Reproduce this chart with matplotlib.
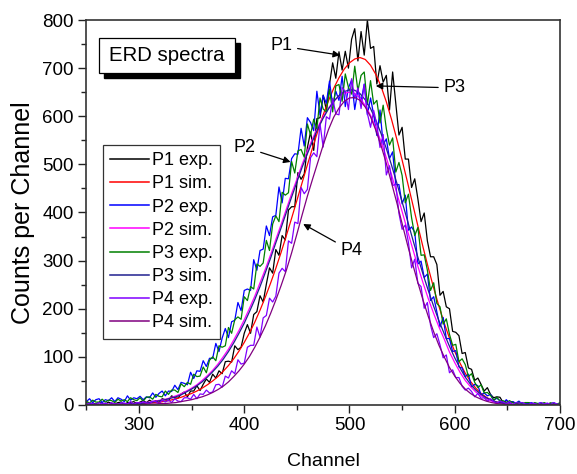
import numpy as np
import matplotlib
matplotlib.use('Agg')
import matplotlib.pyplot as plt
from matplotlib.patches import Rectangle
from matplotlib.ticker import MultipleLocator

plt.rcParams['font.family'] = ['Liberation Sans', 'DejaVu Sans']

# channel grids
channels_exp = np.arange(250, 701, 3)
channels_sim = np.arange(250, 701, 5)

p1_exp = [5, 2, 4, 2, 5, 4, 2, 6, 3, 2,
          5, 6, 1, 5, 5, 7, 3, 6, 9, 5,
          10, 6, 9, 5, 13, 11, 9, 19, 15, 14,
          23, 27, 17, 29, 29, 40, 30, 43, 54, 47,
          64, 56, 71, 65, 90, 91, 89, 123, 115, 120,
          149, 167, 149, 188, 194, 227, 214, 251, 285, 274,
          323, 311, 352, 343, 405, 412, 412, 483, 469, 480,
          535, 567, 529, 595, 597, 644, 613, 666, 711, 679,
          734, 696, 735, 700, 760, 782, 715, 776, 727, 800,
          741, 745, 667, 705, 671, 685, 613, 692, 627, 561,
          577, 511, 511, 452, 470, 428, 381, 399, 341, 308,
          308, 292, 228, 236, 204, 200, 153, 151, 144, 107,
          109, 77, 74, 51, 56, 43, 29, 36, 22, 15,
          17, 16, 5, 9, 6, 7, 2, 4, 5, 2,
          5, 2, 3, 0, 3, 2, 1, 4, 2, 1,
          3]

p2_exp = [7, 13, 5, 11, 13, 5, 11, 9, 15, 7,
          15, 12, 7, 19, 10, 15, 13, 18, 11, 17,
          15, 25, 16, 24, 29, 19, 29, 28, 41, 32,
          47, 45, 42, 68, 55, 71, 70, 92, 80, 97,
          97, 128, 111, 139, 159, 140, 173, 176, 213, 196,
          238, 241, 238, 302, 280, 321, 324, 372, 352, 391,
          394, 453, 420, 471, 470, 512, 522, 521, 575, 538,
          597, 587, 570, 652, 603, 643, 627, 673, 623, 652,
          633, 683, 620, 659, 675, 614, 655, 631, 667, 603,
          638, 603, 560, 613, 541, 553, 512, 526, 458, 458,
          418, 436, 363, 370, 359, 293, 299, 265, 272, 217,
          225, 194, 162, 182, 138, 138, 111, 113, 79, 77,
          59, 64, 37, 43, 40, 21, 25, 19, 22, 10,
          14, 9, 4, 11, 4, 7, 4, 8, 2, 4,
          3, 5, 1, 3, 5, 1, 3, 2, 5, 1,
          4]

p3_exp = [8, 4, 10, 6, 6, 12, 6, 10, 9, 5,
          12, 8, 11, 7, 15, 11, 9, 15, 8, 16,
          17, 12, 22, 18, 17, 29, 22, 31, 31, 26,
          44, 38, 47, 43, 64, 59, 60, 79, 67, 93,
          100, 92, 123, 120, 123, 161, 149, 177, 183, 178,
          225, 217, 246, 241, 293, 288, 295, 342, 321, 376,
          393, 381, 442, 436, 441, 506, 482, 528, 531, 515,
          584, 561, 594, 574, 638, 615, 609, 656, 609, 663,
          666, 631, 688, 660, 646, 704, 653, 685, 692, 624,
          674, 625, 633, 586, 623, 574, 540, 555, 484, 504,
          477, 420, 438, 389, 352, 369, 311, 312, 280, 238,
          254, 211, 204, 168, 179, 147, 124, 126, 90, 96,
          84, 59, 65, 47, 36, 42, 25, 26, 20, 10,
          16, 8, 9, 4, 9, 5, 3, 6, 1, 5,
          5, 1, 5, 3, 2, 5, 2, 4, 3, 1,
          5]

p4_exp = [1, 4, 3, 1, 5, 2, 4, 1, 5, 2,
          1, 5, 4, 2, 7, 1, 5, 4, 7, 4,
          3, 8, 7, 3, 10, 6, 10, 5, 13, 8,
          7, 15, 15, 12, 22, 13, 23, 22, 31, 25,
          27, 42, 43, 37, 60, 56, 71, 65, 94, 85,
          87, 120, 124, 124, 162, 141, 181, 186, 222, 214,
          226, 274, 284, 277, 341, 336, 380, 377, 452, 439,
          448, 514, 524, 516, 584, 536, 599, 594, 637, 605,
          603, 660, 651, 614, 678, 637, 659, 616, 666, 606,
          577, 612, 582, 535, 562, 478, 497, 456, 459, 398,
          365, 374, 338, 285, 303, 253, 246, 201, 213, 166,
          140, 148, 125, 98, 104, 67, 73, 57, 57, 39,
          31, 35, 28, 17, 24, 14, 15, 8, 13, 7,
          4, 8, 6, 3, 7, 1, 5, 4, 5, 2,
          1, 4, 3, 1, 5, 2, 4, 1, 5, 2,
          1]

p1_sim = [0, 0, 0, 1, 1, 1, 1, 1, 1, 2,
          2, 3, 4, 5, 6, 8, 10, 13, 16, 20,
          24, 29, 35, 42, 50, 59, 70, 82, 96, 112,
          130, 150, 172, 197, 224, 253, 284, 317, 352, 388,
          425, 462, 499, 535, 570, 603, 632, 658, 680, 698,
          711, 719, 722, 718, 706, 687, 662, 630, 593, 552,
          509, 464, 418, 372, 327, 284, 243, 205, 170, 139,
          111, 87, 66, 49, 35, 24, 16, 10, 6, 4,
          2, 1, 1, 0, 0, 0, 0, 0, 0, 0,
          0]

p2_sim = [1, 1, 1, 1, 1, 2, 2, 2, 3, 3,
          4, 5, 6, 8, 10, 12, 15, 19, 23, 29,
          35, 42, 51, 61, 72, 85, 100, 116, 135, 155,
          177, 201, 226, 254, 282, 312, 344, 375, 407, 439,
          469, 500, 528, 554, 578, 599, 617, 631, 642, 648,
          650, 647, 638, 622, 602, 576, 547, 514, 478, 440,
          402, 363, 325, 288, 253, 220, 190, 162, 137, 110,
          88, 68, 51, 38, 27, 19, 13, 8, 5, 3,
          2, 1, 1, 0, 0, 0, 0, 0, 0, 0,
          0]

p3_sim = [1, 1, 1, 1, 1, 1, 2, 2, 2, 3,
          3, 4, 5, 7, 9, 11, 14, 17, 21, 27,
          33, 40, 48, 58, 69, 81, 95, 111, 129, 149,
          170, 194, 219, 246, 275, 305, 337, 368, 400, 432,
          463, 494, 522, 549, 574, 596, 615, 631, 643, 651,
          655, 654, 647, 634, 616, 592, 564, 533, 498, 461,
          422, 384, 345, 307, 271, 237, 205, 175, 148, 122,
          98, 77, 58, 43, 31, 22, 15, 10, 6, 4,
          2, 1, 1, 0, 0, 0, 0, 0, 0, 0,
          0]

p4_sim = [0, 0, 0, 0, 1, 1, 1, 1, 1, 1,
          1, 1, 2, 2, 3, 3, 4, 5, 7, 9,
          11, 14, 17, 21, 26, 32, 39, 48, 59, 71,
          85, 101, 120, 141, 164, 190, 218, 248, 280, 316,
          355, 395, 434, 470, 505, 540, 572, 598, 617, 631,
          638, 639, 633, 619, 599, 571, 539, 502, 461, 420,
          377, 334, 293, 254, 217, 183, 152, 124, 100, 78,
          60, 45, 33, 24, 17, 12, 8, 5, 3, 2,
          1, 1, 0, 0, 0, 0, 0, 0, 0, 0,
          0]

labels = ['P1 exp.', 'P1 sim.', 'P2 exp.', 'P2 sim.',
          'P3 exp.', 'P3 sim.', 'P4 exp.', 'P4 sim.']
colors = ['#000000', '#FF0000', '#0000FF', '#FF00FF',
          '#008000', '#202090', '#8000FF', '#800080']
xs = [channels_exp, channels_sim] * 4
ys = [p1_exp, p1_sim, p2_exp, p2_sim, p3_exp, p3_sim, p4_exp, p4_sim]

fig = plt.figure(figsize=(5.77, 4.74), dpi=100)
ax = fig.add_axes([0.1497, 0.1456, 0.8208, 0.8122])

for x, y, c, lab in zip(xs, ys, colors, labels):
    ax.plot(x, y, color=c, lw=0.9, label=lab)

ax.set_xlim(250, 700)
ax.set_ylim(0, 800)
ax.xaxis.set_major_locator(MultipleLocator(100))
ax.xaxis.set_minor_locator(MultipleLocator(50))
ax.yaxis.set_major_locator(MultipleLocator(100))
ax.yaxis.set_minor_locator(MultipleLocator(50))
ax.tick_params(which='major', direction='out', length=6, width=1.0,
               labelsize=13.5, color='#222222', pad=3)
ax.tick_params(which='minor', direction='out', length=3.5, width=1.0,
               color='#222222')
for side in ['left', 'bottom', 'top', 'right']:
    ax.spines[side].set_linewidth(1.2)
    ax.spines[side].set_color('#333333')

ax.set_xlabel('Channel', fontsize=14)
ax.set_ylabel('Counts per Channel', fontsize=18)
ax.xaxis.set_label_coords(0.5, -0.125)
ax.yaxis.set_label_coords(-0.108, 0.5)

leg = ax.legend(loc='upper left', bbox_to_anchor=(0.035, 0.675),
                borderaxespad=0, fontsize=13, frameon=True,
                fancybox=False, edgecolor='black', handlelength=2.15,
                handletextpad=0.15, labelspacing=0.34, borderpad=0.4)
leg.get_frame().set_linewidth(0.9)
for h in leg.get_lines():
    h.set_linewidth(1.1)

# ERD spectra box with shadow
ax.add_patch(Rectangle((0.0372, 0.849), 0.2866, 0.091, transform=ax.transAxes,
                       facecolor='black', edgecolor='black', clip_on=False, zorder=5))
ax.add_patch(Rectangle((0.0266, 0.862), 0.2872, 0.091, transform=ax.transAxes,
                       facecolor='white', edgecolor='black', lw=0.9, clip_on=False, zorder=6))
ax.text(0.170, 0.9065, 'ERD spectra', transform=ax.transAxes, fontsize=14.7,
        ha='center', va='center', zorder=7)

arrow = dict(arrowstyle='-|>', color='black', lw=0.9, mutation_scale=10,
             shrinkA=2, shrinkB=0)
ax.annotate('P1', xy=(491, 727), xytext=(435, 746), fontsize=13,
            ha='center', va='center', arrowprops=arrow)
ax.annotate('P3', xy=(525, 663), xytext=(600, 659), fontsize=13,
            ha='center', va='center', arrowprops=arrow)
ax.annotate('P2', xy=(444, 505), xytext=(400, 536), fontsize=13,
            ha='center', va='center', arrowprops=arrow)
ax.annotate('P4', xy=(456, 376), xytext=(502, 320), fontsize=13,
            ha='center', va='center', arrowprops=arrow)

fig.savefig('out.png', dpi=100)
